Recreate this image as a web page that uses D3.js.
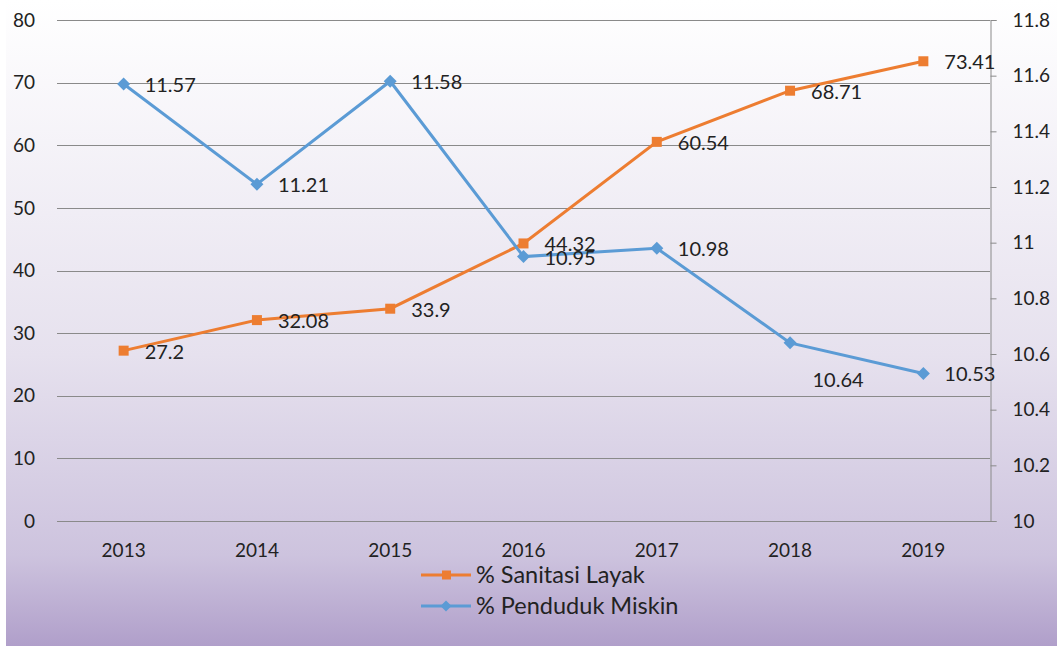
<!DOCTYPE html>
<html>
<head>
<meta charset="utf-8">
<script src="https://cdn.jsdelivr.net/npm/d3@7"></script>
<style>
  body { margin: 0; background: #fff; }
  svg text { font-family: Lato, "Open Sans", sans-serif; fill: #222; }
</style>
</head>
<body>
<svg id="chart" width="1057" height="648"></svg>
<script>
// data
var years = ["2013", "2014", "2015", "2016", "2017", "2018", "2019"];
var sanitasi = [27.2, 32.08, 33.9, 44.32, 60.54, 68.71, 73.41];
var miskin = [11.57, 11.21, 11.58, 10.95, 10.98, 10.64, 10.53];
var leftTicks = [0, 10, 20, 30, 40, 50, 60, 70, 80];
var rightTicks = [10, 10.2, 10.4, 10.6, 10.8, 11, 11.2, 11.4, 11.6, 11.8];

var svg = d3.select("#chart");
var width = 1057, height = 648;

// background gradient
var defs = svg.append("defs");
var grad = defs.append("linearGradient")
  .attr("id", "bg").attr("x1", 0).attr("y1", 0).attr("x2", 0).attr("y2", 1);
grad.append("stop").attr("offset", "0%").attr("stop-color", "#ffffff");
grad.append("stop").attr("offset", "55%").attr("stop-color", "#e6e1ee");
grad.append("stop").attr("offset", "86%").attr("stop-color", "#cdc3de");
grad.append("stop").attr("offset", "100%").attr("stop-color", "#b09fca");

svg.append("rect")
  .attr("x", 6).attr("y", 0)
  .attr("width", width - 6).attr("height", height - 2)
  .attr("fill", "url(#bg)");

// plot area
var plotLeft = 57, plotRight = 990, plotTop = 20, plotBottom = 521;

var x = d3.scalePoint().domain(years).range([plotLeft, plotRight]).padding(0.5);
var yL = d3.scaleLinear().domain([0, 80]).range([plotBottom, plotTop]);
var yR = d3.scaleLinear().domain([10, 11.8]).range([plotBottom, plotTop]);

// gridlines
svg.append("g")
  .selectAll("line")
  .data(leftTicks)
  .enter()
  .append("line")
  .attr("x1", plotLeft).attr("x2", plotRight)
  .attr("y1", function(d) { return Math.round(yL(d)) + 0.5; })
  .attr("y2", function(d) { return Math.round(yL(d)) + 0.5; })
  .attr("stroke", "#8a8a8a").attr("stroke-width", 1);

// left tick labels
svg.append("g")
  .selectAll("text")
  .data(leftTicks)
  .enter()
  .append("text")
  .attr("x", 35)
  .attr("y", function(d) { return yL(d); })
  .attr("dy", "0.35em")
  .attr("text-anchor", "end")
  .style("font-size", "19px")
  .text(function(d) { return d; });

// right axis
var rightAxis = d3.axisRight(yR)
  .tickValues(rightTicks)
  .tickSize(6)
  .tickPadding(16)
  .tickFormat(function(d) { return d3.format("~g")(d); });
var ra = svg.append("g")
  .attr("transform", "translate(" + (plotRight + 0.5) + ",0)")
  .call(rightAxis);
ra.select(".domain").attr("stroke", "#8a8a8a");
ra.selectAll(".tick line").attr("stroke", "#8a8a8a");
ra.selectAll(".tick text")
  .style("font-size", "19px")
  .attr("fill", "#222")
  .attr("text-anchor", "start");

// bottom axis line extends to the right tick
svg.append("line")
  .attr("x1", plotLeft).attr("x2", plotRight + 6)
  .attr("y1", plotBottom + 0.5).attr("y2", plotBottom + 0.5)
  .attr("stroke", "#8a8a8a");

// year labels
svg.append("g")
  .selectAll("text")
  .data(years)
  .enter()
  .append("text")
  .attr("x", function(d) { return x(d); })
  .attr("y", 557)
  .attr("text-anchor", "middle")
  .style("font-size", "19px")
  .text(function(d) { return d; });

var orange = "#ed7d31", blue = "#5b9bd5";

// lines
var lineL = d3.line()
  .x(function(d, i) { return x(years[i]); })
  .y(function(d) { return yL(d); });
var lineR = d3.line()
  .x(function(d, i) { return x(years[i]); })
  .y(function(d) { return yR(d); });

svg.append("path")
  .datum(sanitasi)
  .attr("d", lineL)
  .attr("fill", "none").attr("stroke", orange).attr("stroke-width", 3);

svg.append("path")
  .datum(miskin)
  .attr("d", lineR)
  .attr("fill", "none").attr("stroke", blue).attr("stroke-width", 3);

// markers
svg.append("g")
  .selectAll("rect")
  .data(sanitasi)
  .enter()
  .append("rect")
  .attr("x", function(d, i) { return x(years[i]) - 5; })
  .attr("y", function(d) { return yL(d) - 5; })
  .attr("width", 10).attr("height", 10)
  .attr("fill", orange);

// square diamond (rotated square), like excel's marker
function diamondPath(r) {
  return "M0," + (-r) + "L" + r + ",0L0," + r + "L" + (-r) + ",0Z";
}
svg.append("g")
  .selectAll("path")
  .data(miskin)
  .enter()
  .append("path")
  .attr("d", diamondPath(6.5))
  .attr("transform", function(d, i) {
    return "translate(" + x(years[i]) + "," + yR(d) + ")";
  })
  .attr("fill", blue);

// data labels (right of the point, 2018 blue one sits below)
svg.append("g")
  .selectAll("text")
  .data(sanitasi)
  .enter()
  .append("text")
  .attr("x", function(d, i) { return x(years[i]) + 21; })
  .attr("y", function(d) { return yL(d); })
  .attr("dy", "0.4em")
  .style("font-size", "20px")
  .text(function(d) { return d; });

svg.append("g")
  .selectAll("text")
  .data(miskin)
  .enter()
  .append("text")
  .attr("x", function(d, i) { return i === 5 ? x(years[i]) + 48 : x(years[i]) + 21; })
  .attr("y", function(d, i) { return i === 5 ? yR(d) + 36 : yR(d); })
  .attr("dy", "0.4em")
  .attr("text-anchor", function(d, i) { return i === 5 ? "middle" : "start"; })
  .style("font-size", "20px")
  .text(function(d) { return d3.format(".2f")(d); });

// legend
var legend = [
  { name: "% Sanitasi Layak", color: orange, shape: "square" },
  { name: "% Penduduk Miskin", color: blue, shape: "diamond" }
];
var lg = svg.append("g").attr("transform", "translate(421,575)");
legend.forEach(function(l, i) {
  var g = lg.append("g").attr("transform", "translate(0," + (i * 31) + ")");
  g.append("line").attr("x1", 0).attr("x2", 50).attr("y1", 0).attr("y2", 0)
    .attr("stroke", l.color).attr("stroke-width", 3);
  if (l.shape === "square") {
    g.append("rect").attr("x", 21).attr("y", -4.5).attr("width", 9).attr("height", 9)
      .attr("fill", l.color);
  } else {
    g.append("path").attr("d", diamondPath(5.5)).attr("transform", "translate(25,0)")
      .attr("fill", l.color);
  }
  g.append("text").attr("x", 55).attr("y", 0).attr("dy", "0.35em")
    .style("font-size", "23.5px")
    .text(l.name);
});
</script>
</body>
</html>
